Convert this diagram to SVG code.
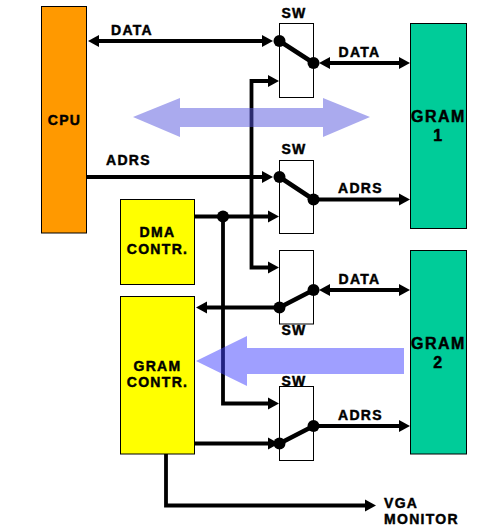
<svg xmlns="http://www.w3.org/2000/svg" width="502" height="530" viewBox="0 0 502 530">
<style>
text{font-family:"Liberation Sans",Arial,sans-serif;font-weight:700;font-size:14px;fill:#000;stroke:#000;stroke-width:.45;letter-spacing:1.3px}
.big{font-size:16px;letter-spacing:1.5px}
.m{text-anchor:middle}
.box{stroke:#000;stroke-width:1}
.cpu{fill:#ff9900}.gram{fill:#00cc99}.ctl{fill:#ffff00}.sw{fill:#fff}
.c{fill:none;stroke:#000;stroke-width:3.8}
.a{marker-end:url(#ah)}
.b{marker-start:url(#ah);marker-end:url(#ah)}
.lever{fill:none;stroke:#000;stroke-width:4.5}
.flow{fill-opacity:.5}
</style>
<defs>
<marker id="ah" markerUnits="userSpaceOnUse" markerWidth="13" markerHeight="13" refX="5" refY="6.5" orient="auto-start-reverse"><path d="M0 .5L11 6.5L0 12.5Z" fill="#000"/></marker>
</defs>
<rect width="502" height="530" fill="#fff"/>
<g id="cpu"><rect class="box cpu" x="41.5" y="6.5" width="45" height="226.5"/><text class="m" x="64.500" y="124.700">CPU</text></g>
<g id="gram1"><rect class="box gram" x="410.500" y="23.500" width="56" height="205"/><text class="big m" x="438.500" y="121.700">GRAM</text><text class="big m" x="438.500" y="141">1</text></g>
<g id="gram2"><rect class="box gram" x="410.500" y="250.500" width="56" height="203.500"/><text class="big m" x="438.500" y="348.700">GRAM</text><text class="big m" x="438.500" y="368">2</text></g>
<g id="dma"><rect class="box ctl" x="120.500" y="199.500" width="74" height="85"/><text class="m" x="157.500" y="237.300">DMA</text><text class="m" x="157.500" y="254.300">CONTR.</text></g>
<g id="gram-contr"><rect class="box ctl" x="120.500" y="296.500" width="74" height="157.500"/><text class="m" x="157.500" y="370.700">GRAM</text><text class="m" x="157.500" y="387.300">CONTR.</text></g>
<g id="sw1"><rect class="box sw" x="279.500" y="23.500" width="34" height="74"/><text class="m" x="294" y="17.700">SW</text></g>
<g id="sw2"><rect class="box sw" x="279.500" y="160.500" width="34" height="73"/><text class="m" x="294" y="153.700">SW</text></g>
<g id="sw3"><rect class="box sw" x="279.500" y="250.500" width="34" height="73.500"/><text class="m" x="294" y="334.700">SW</text></g>
<g id="sw4"><rect class="box sw" x="279.500" y="386.500" width="34" height="74"/><text class="m" x="294" y="386">SW</text></g>
<g id="connectors">
<path class="c b" d="M94 41H267"/>
<path class="c b" d="M273 81H251.500V267.500H273"/>
<path class="c b" d="M325 63H404"/>
<path class="c a" d="M87 177H267"/>
<path class="c a" d="M313 199.500H404"/>
<path class="c a" d="M195 216.500H273"/>
<path class="c a" d="M223 216.500V403.500H273"/>
<path class="c b" d="M325 290H404"/>
<path class="c a" d="M279 307.500H202"/>
<path class="c a" d="M313 426H404"/>
<path class="c a" d="M195 443.500H273"/>
<path class="c a" d="M166 454V505.500H370"/>
<g id="switch-levers">
<path class="lever" d="M279.500 41L313.500 63M279.500 177L313.500 199.500M279.500 307.500L313.500 290M279.500 443.500L313.500 426"/>
<g fill="#000"><circle cx="279.500" cy="41" r="6"/><circle cx="313.500" cy="63" r="6"/><circle cx="279.500" cy="177" r="6"/><circle cx="313.500" cy="199.500" r="6"/><circle cx="223" cy="216.500" r="6"/><circle cx="279.500" cy="307.500" r="6"/><circle cx="313.500" cy="290" r="6"/><circle cx="279.500" cy="443.500" r="6"/><circle cx="313.500" cy="426" r="6"/></g>
</g>
</g>
<g id="flows">
<path class="flow" fill="#5555dd" d="M133 117L180 98V108H323V98L370 117L323 137V127H180V137Z"/>
<path class="flow" fill="#4040ff" d="M196 361L247 336V348H404V374H247V386Z"/>
</g>
<g id="labels">
<text x="111" y="35">DATA</text>
<text x="106" y="164.700">ADRS</text>
<text x="338.500" y="57">DATA</text>
<text x="338" y="192.700">ADRS</text>
<text x="338.500" y="283.700">DATA</text>
<text x="338" y="419.700">ADRS</text>
<text x="384" y="507.700">VGA</text>
<text x="384" y="523.700">MONITOR</text>
</g>
</svg>
